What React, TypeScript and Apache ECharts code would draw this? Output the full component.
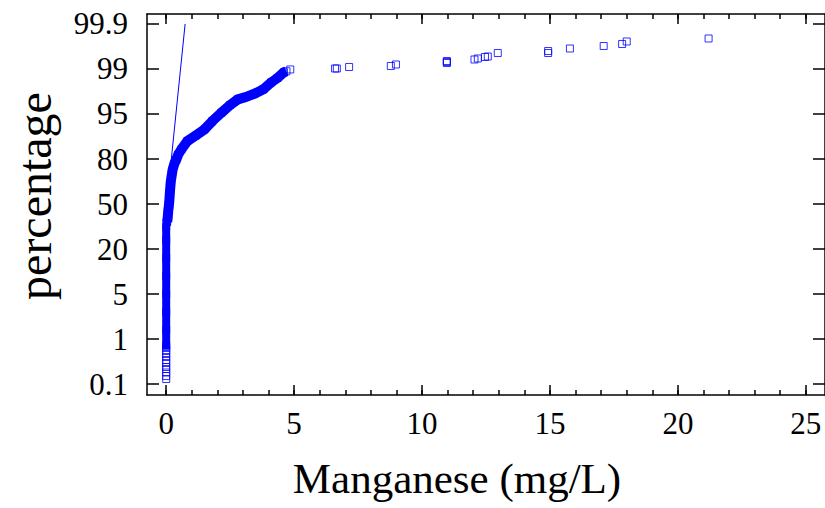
import React, { useEffect, useRef } from 'react';
import * as echarts from 'echarts';

// Probability-axis ticks (equally spaced in the reference)
const yTickPercents = [0.1, 1, 5, 20, 50, 80, 95, 99, 99.9];
const yTickLabels = ['0.1', '1', '5', '20', '50', '80', '95', '99', '99.9'];
const xMajorTicks = [0, 5, 10, 15, 20, 25];
const xMinorTicks = [
  0, 1, 2, 3, 4, 5, 6, 7, 8, 9, 10, 11, 12, 13, 14, 15, 16, 17, 18, 19, 20, 21, 22, 23, 24, 25,
];

// Dense band of observations near 0 mg/L (Manganese mg/L, cumulative %)
const stemMn = [0, 0, 0, 0, 0, 0, 0, 0, 0.02];
const stemPct = [0.87, 1.8, 3.4, 5, 11, 17, 26, 35, 38];

// Dense curved band of observations
const curveMn = [
  0.04, 0.06, 0.08, 0.1, 0.12, 0.15, 0.18, 0.25, 0.32, 0.39, 0.47, 0.6, 0.83, 1.15, 1.5, 1.8,
  2.15, 2.5, 2.8, 3.1, 3.45, 3.8, 4.1, 4.35, 4.6, 4.7,
];
const curvePct = [
  38, 41, 45.5, 48, 51.5, 59, 65, 72.8, 77, 79.4, 81.5, 83.3, 86, 87.8, 89.9, 92.6, 95.1, 95.8,
  96.3, 96.5, 96.8, 97.2, 97.8, 98.2, 98.7, 98.8,
];

// Lowest observations (non-detects at 0 mg/L)
const lowMn = [0, 0, 0, 0, 0, 0, 0, 0, 0, 0, 0];
const lowPct = [0.2, 0.26, 0.33, 0.4, 0.44, 0.52, 0.58, 0.64, 0.7, 0.76, 0.82];

// Sparse upper tail
const tailMn = [
  4.85, 6.6, 6.67, 7.15, 8.78, 8.98, 10.97, 10.97, 10.97, 12.05, 12.18, 12.46, 12.57, 12.96,
  14.93, 14.93, 15.78, 17.1, 17.82, 18.0, 21.2,
];
const tailPct = [
  98.96, 99.01, 99.01, 99.04, 99.06, 99.09, 99.12, 99.14, 99.16, 99.19, 99.21, 99.24, 99.25,
  99.32, 99.32, 99.36, 99.41, 99.46, 99.5, 99.55, 99.61,
];

// Fitted reference line
const fitMn = [0.18, 0.74];
const fitPct = [76.4, 99.9];

const FONT = "'Liberation Serif', 'Times New Roman', serif";
const BLUE = '#0000ff';

// probability scale position (ticks equally spaced)
function toPos(p: number): number {
  const P = yTickPercents;
  if (p <= P[0]) return (p - P[0]) / (P[1] - P[0]);
  for (let k = 0; k < P.length - 1; k++) {
    if (p <= P[k + 1]) return k + (p - P[k]) / (P[k + 1] - P[k]);
  }
  const n = P.length - 1;
  return n + (p - P[n]) / (P[n] - P[n - 1]);
}

const pairs = (xs: number[], ps: number[]) => xs.map((x, i) => [x, toPos(ps[i])]);

export default function App() {
  const ref = useRef<HTMLDivElement>(null);
  useEffect(() => {
    const chart = echarts.init(ref.current!, null, { renderer: 'svg' });
    const yPos = yTickPercents.map((_, i) => i);
    const axisLineStyle = { color: '#000', width: 1.5 };
    const xMin = -0.75;
    const xMax = 25.75;
    const yMin = -0.244;
    const yMax = 8.222;
    const gridRect = { left: 147, right: -1, top: 14, bottom: 113 };
    chart.setOption({
      animation: false,
      backgroundColor: '#fff',
      grid: [
        { ...gridRect, containLabel: false },
        { ...gridRect, containLabel: false },
      ],
      xAxis: [
        {
          type: 'value', gridIndex: 0, position: 'bottom', min: xMin, max: xMax,
          axisLine: { show: true, onZero: false, lineStyle: axisLineStyle },
          axisTick: { show: true, inside: true, length: 10, customValues: xMajorTicks, lineStyle: axisLineStyle },
          axisLabel: { show: true, customValues: xMajorTicks, fontSize: 31, fontFamily: FONT, color: '#000', margin: 13 },
          splitLine: { show: false },
        },
        {
          type: 'value', gridIndex: 0, position: 'top', min: xMin, max: xMax,
          axisLine: { show: true, onZero: false, lineStyle: axisLineStyle },
          axisTick: { show: true, inside: true, length: 10, customValues: xMajorTicks, lineStyle: axisLineStyle },
          axisLabel: { show: false },
          splitLine: { show: false },
        },
        {
          type: 'value', gridIndex: 1, position: 'bottom', min: xMin, max: xMax,
          axisLine: { show: false, onZero: false },
          axisTick: { show: true, inside: true, length: 5, customValues: xMinorTicks, lineStyle: axisLineStyle },
          axisLabel: { show: false },
          splitLine: { show: false },
        },
        {
          type: 'value', gridIndex: 1, position: 'top', min: xMin, max: xMax,
          axisLine: { show: false, onZero: false },
          axisTick: { show: true, inside: true, length: 5, customValues: xMinorTicks, lineStyle: axisLineStyle },
          axisLabel: { show: false },
          splitLine: { show: false },
        },
      ],
      yAxis: [
        {
          type: 'value', gridIndex: 0, position: 'left', min: yMin, max: yMax,
          axisLine: { show: true, onZero: false, lineStyle: axisLineStyle },
          axisTick: { show: true, inside: true, length: 12, customValues: yPos, lineStyle: axisLineStyle },
          axisLabel: {
            show: true, customValues: yPos, fontSize: 31, fontFamily: FONT, color: '#000', margin: 19,
            formatter: (v: number) => yTickLabels[Math.round(v)] ?? '',
          },
          splitLine: { show: false },
        },
        {
          type: 'value', gridIndex: 0, position: 'right', min: yMin, max: yMax,
          axisLine: { show: true, onZero: false, lineStyle: axisLineStyle },
          axisTick: { show: true, inside: true, length: 12, customValues: yPos, lineStyle: axisLineStyle },
          axisLabel: { show: false },
          splitLine: { show: false },
        },
        {
          type: 'value', gridIndex: 1, min: yMin, max: yMax, show: false,
        },
      ],
      series: [
        {
          type: 'line', xAxisIndex: 0, yAxisIndex: 0, data: pairs(stemMn, stemPct),
          symbol: 'none', lineStyle: { color: BLUE, width: 8, join: 'round', cap: 'square' }, z: 2,
        },
        {
          type: 'line', xAxisIndex: 0, yAxisIndex: 0, data: pairs(curveMn, curvePct),
          symbol: 'none', lineStyle: { color: BLUE, width: 10, join: 'round', cap: 'butt' }, z: 2,
        },
        {
          type: 'scatter', xAxisIndex: 0, yAxisIndex: 0,
          data: [
            ...pairs(lowMn, lowPct),
            ...pairs(stemMn, stemPct),
            ...pairs(curveMn, curvePct),
            ...pairs(tailMn, tailPct),
          ],
          symbol: 'rect', symbolSize: 7,
          itemStyle: { color: 'rgba(0,0,0,0)', borderColor: BLUE, borderWidth: 1 }, z: 3,
        },
        {
          type: 'line', xAxisIndex: 0, yAxisIndex: 0, data: pairs(fitMn, fitPct),
          symbol: 'none', lineStyle: { color: BLUE, width: 1 }, z: 4,
        },
      ],
      graphic: [
        {
          type: 'text', x: 34, y: 196, rotation: Math.PI / 2,
          style: { text: 'percentage', fontSize: 48, fontFamily: FONT, fill: '#000', align: 'center', verticalAlign: 'middle', textAlign: 'center', textVerticalAlign: 'middle' },
        },
        {
          type: 'text', x: 457, y: 478,
          style: { text: 'Manganese (mg/L)', fontSize: 43, fontFamily: FONT, fill: '#000', align: 'center', verticalAlign: 'middle', textAlign: 'center', textVerticalAlign: 'middle' },
        },
      ],
    });
    return () => chart.dispose();
  }, []);
  return <div ref={ref} style={{ position: 'fixed', left: 0, top: 0, width: 825, height: 508 }} />;
}
